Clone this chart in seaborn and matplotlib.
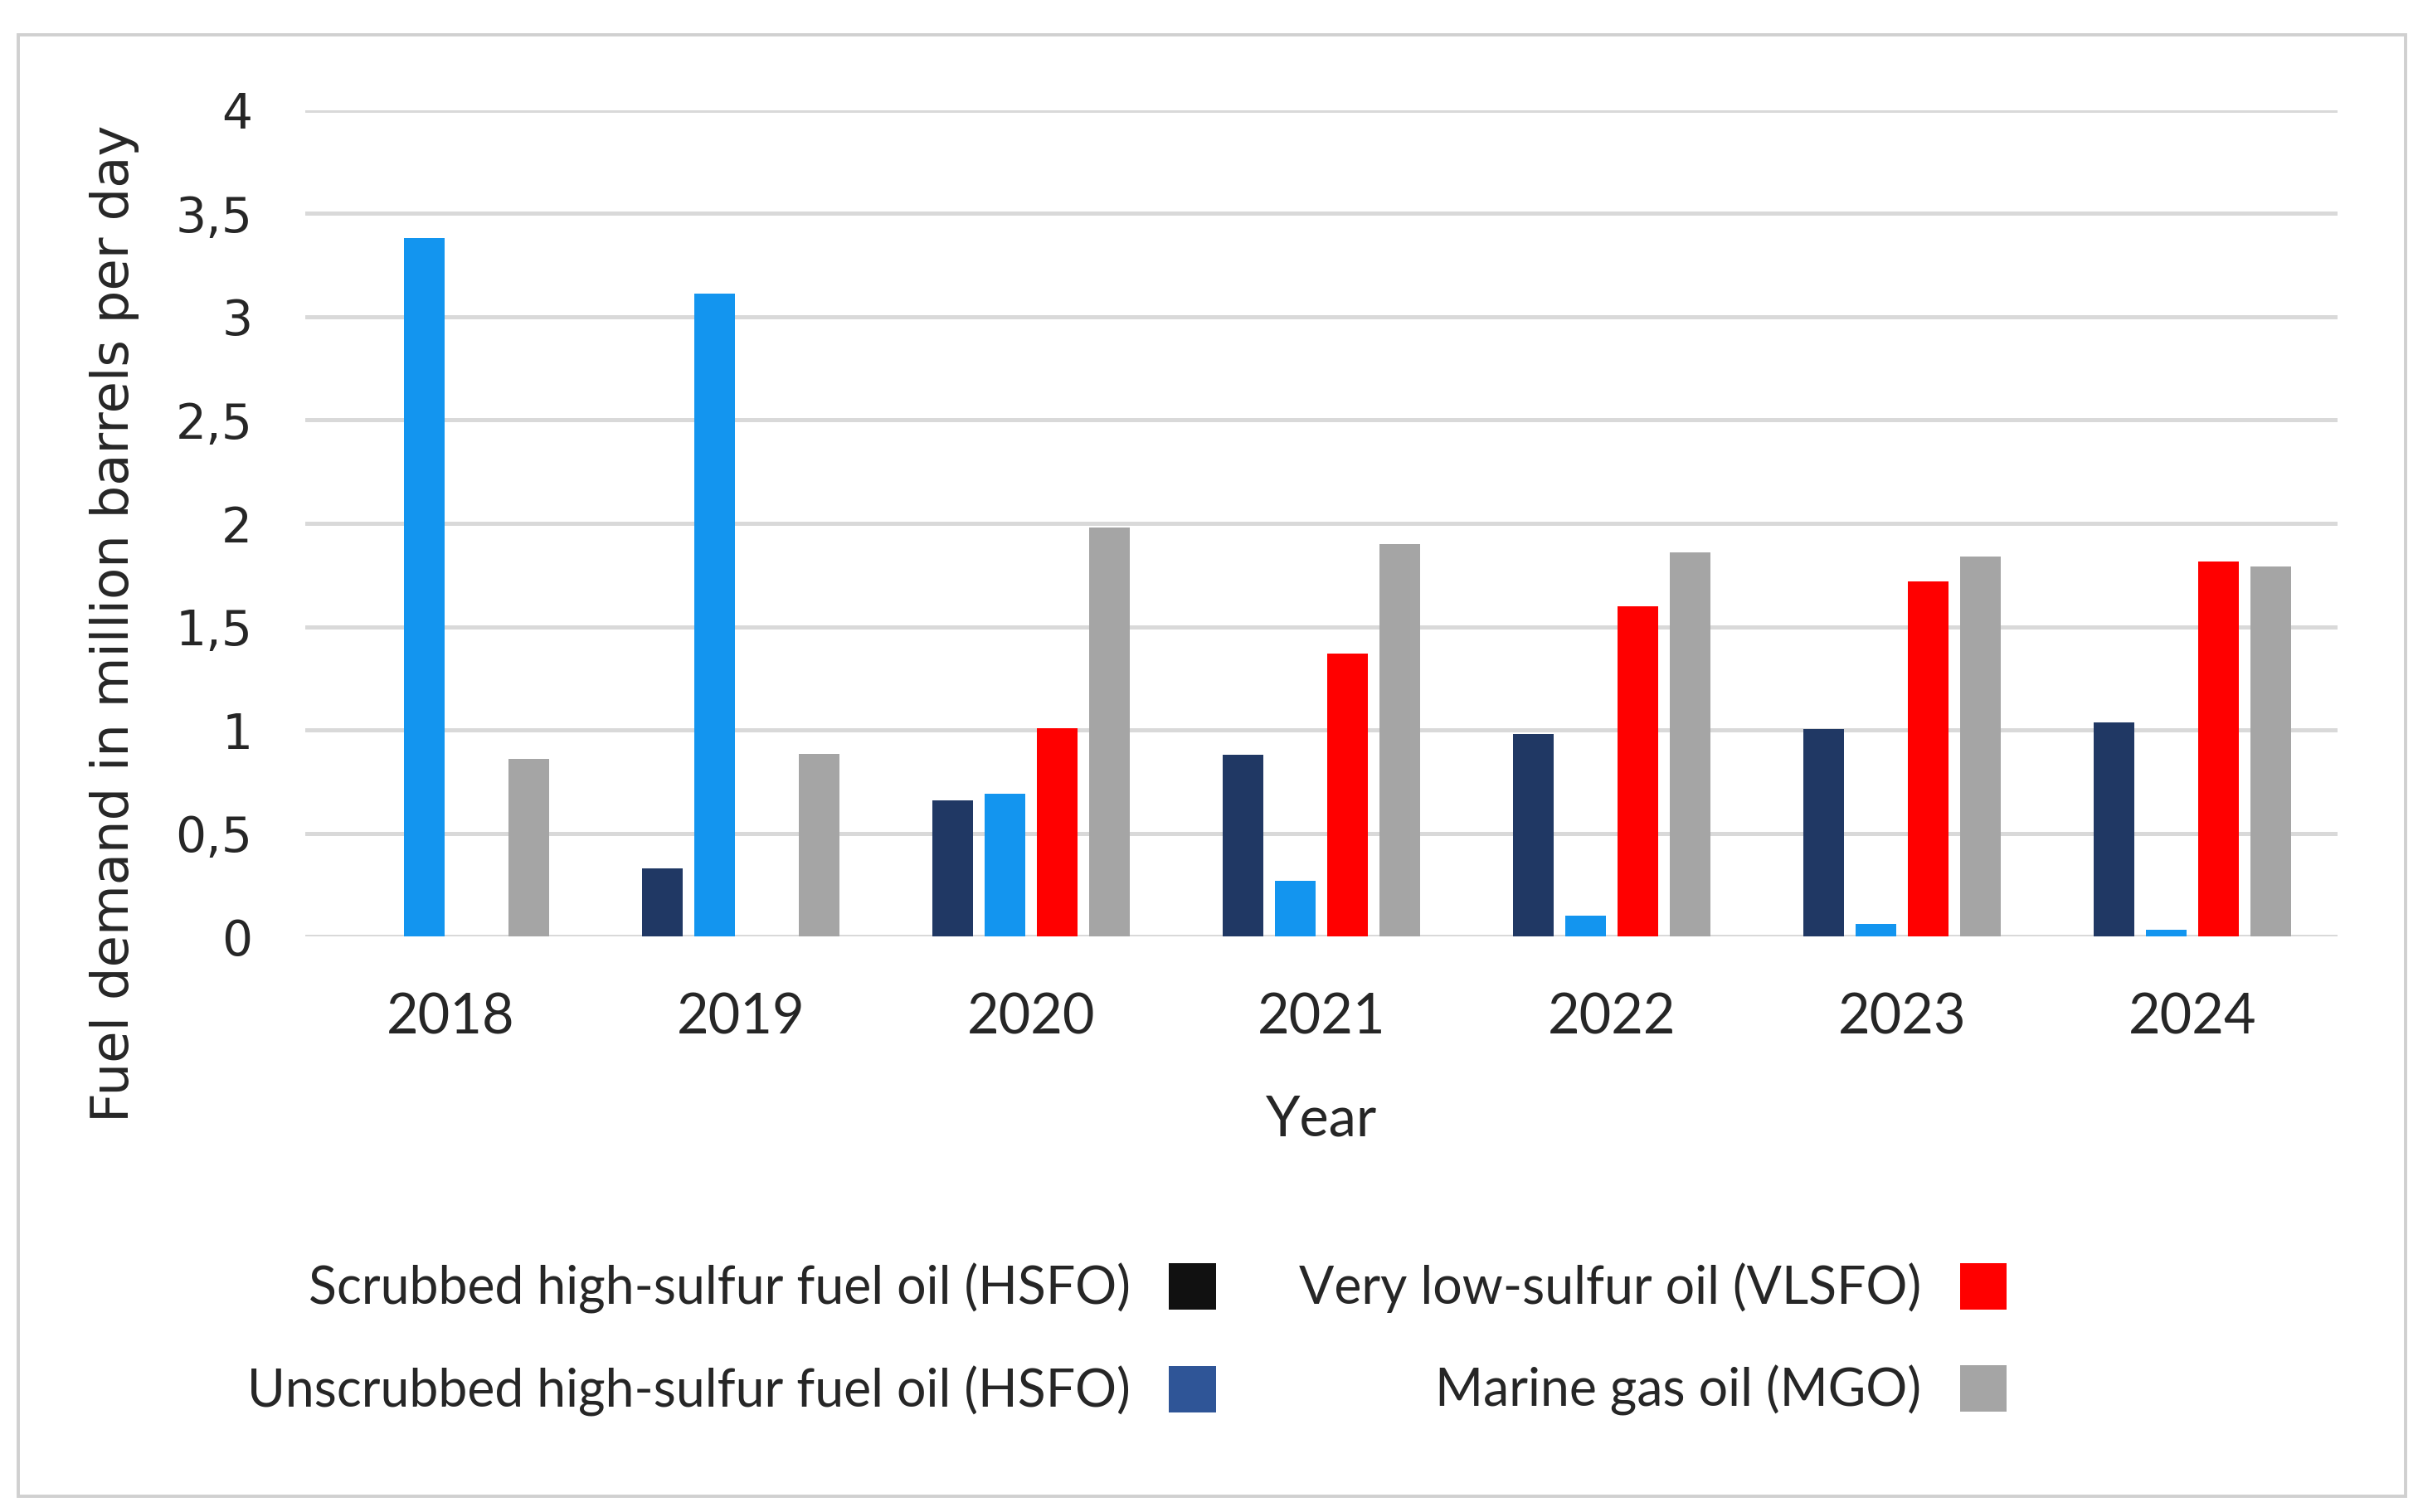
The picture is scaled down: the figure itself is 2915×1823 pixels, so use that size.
import pandas as pd
import matplotlib.pyplot as plt
import seaborn as sns
from matplotlib.patches import Patch, Rectangle

# Datos
years = ['2018', '2019', '2020', '2021', '2022', '2023', '2024']
fuels = ['Scrubbed high-sulfur fuel oil (HSFO)',
         'Unscrubbed high-sulfur fuel oil (HSFO)',
         'Very low-sulfur oil (VLSFO)',
         'Marine gas oil (MGO)']
scrubbed_hsfo = [0, 0.33, 0.66, 0.88, 0.98, 1.005, 1.035]
unscrubbed_hsfo = [3.38, 3.11, 0.69, 0.27, 0.10, 0.06, 0.035]
vlsfo = [0, 0, 1.01, 1.37, 1.60, 1.72, 1.815]
mgo = [0.86, 0.885, 1.98, 1.90, 1.86, 1.84, 1.79]

bar_colors = ['#203864', '#1395EF', '#FF0000', '#A5A5A5']
legend_colors = ['#111111', '#2F5597', '#FF0000', '#A5A5A5']

# Se arma el dataframe largo
series = [scrubbed_hsfo, unscrubbed_hsfo, vlsfo, mgo]
rows = []
for fuel, vals in zip(fuels, series):
    for year, v in zip(years, vals):
        rows.append({'Year': year, 'Fuel': fuel, 'Value': v})
df = pd.DataFrame(rows)

sns.set_style('white')
plt.rcParams['font.family'] = ['Lato', 'DejaVu Sans']

fig = plt.figure(figsize=(14.575, 9.115), dpi=200)
ax = fig.add_axes([0.1263, 0.3805, 0.8404, 0.5467])

sns.barplot(data=df, x='Year', y='Value', hue='Fuel', hue_order=fuels,
            palette=bar_colors, saturation=1, width=0.72, gap=0.23,
            legend=False, linewidth=0, ax=ax, zorder=3)

# Ejes y grilla
ax.set_ylim(0, 4)
ax.set_xlim(-0.5, 6.5)
ax.set_yticks([0, 0.5, 1, 1.5, 2, 2.5, 3, 3.5, 4])
ax.set_yticklabels(['0', '0,5', '1', '1,5', '2', '2,5', '3', '3,5', '4'],
                   fontfamily='DejaVu Sans', fontsize=21)
ax.grid(axis='y', color='#D9D9D9', linewidth=1.8, zorder=0)
ax.set_axisbelow(True)
for s in ax.spines.values():
    s.set_visible(False)
ax.tick_params(axis='y', length=0, pad=23)
ax.tick_params(axis='x', length=0, pad=24, labelsize=24)

ax.set_xlabel('Year', fontsize=24, labelpad=22)
ax.set_ylabel('Fuel demand in million barrels per day', fontsize=22.5,
              fontfamily='DejaVu Sans', va='center')
ax.yaxis.set_label_coords(-0.094, 0.379)

# Leyenda personalizada
handles = [Patch(facecolor=c, edgecolor='none') for c in legend_colors]
fig.legend(handles, fuels, loc='center', bbox_to_anchor=(0.466, 0.114),
           ncol=2, frameon=False, markerfirst=False, fontsize=22.5,
           handlelength=0.9, handleheight=1.0, handletextpad=0.75,
           columnspacing=1.6, labelspacing=1.0)

# Marco exterior
fig.patches.append(Rectangle((0.0077, 0.0103), 0.9872, 0.9667,
                             transform=fig.transFigure, fill=False,
                             edgecolor='#D0D0D0', linewidth=1.4))

fig.savefig('out.png', dpi=200, facecolor='white')
